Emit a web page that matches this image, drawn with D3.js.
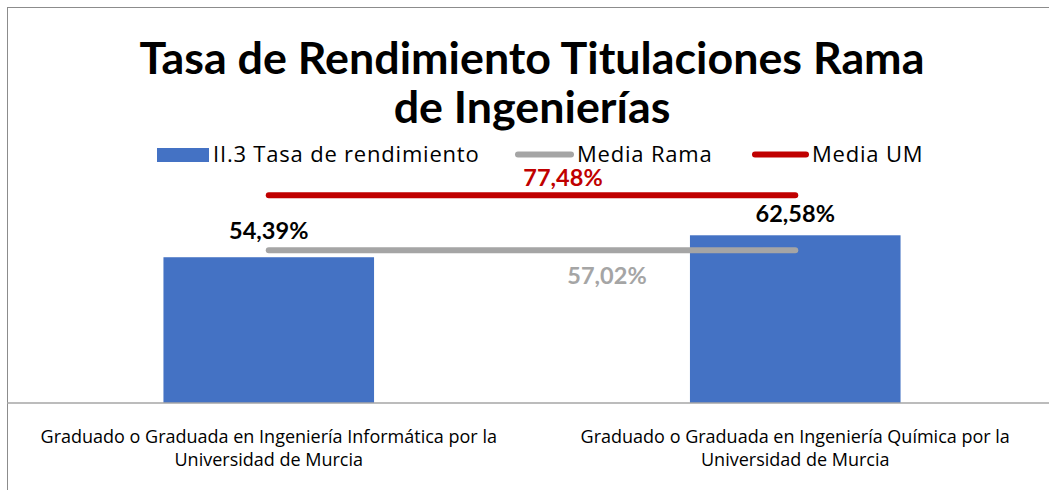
<!DOCTYPE html>
<html>
<head>
<meta charset="utf-8">
<script src="https://cdn.jsdelivr.net/npm/d3@7/dist/d3.min.js"></script>
<style>
  html, body { margin: 0; padding: 0; background: #fff; }
  svg { display: block; font-family: Lato, "Open Sans", sans-serif; }
</style>
</head>
<body>
<svg id="chart" width="1049" height="490"></svg>
<script>
// ---- data ----
const titleLines = ["Tasa de Rendimiento Titulaciones Rama", "de Ingenierías"];
const categories = [
  "Graduado o Graduada en Ingeniería Informática por la|Universidad de Murcia",
  "Graduado o Graduada en Ingeniería Química por la|Universidad de Murcia"
];
const seriesNames = ["II.3 Tasa de rendimiento", "Media Rama", "Media UM"];
const tasaRendimiento = [0.5439, 0.6258];
const mediaRama = [0.5702, 0.5702];
const mediaUM = [0.7748, 0.7748];

const fmt = v => (v * 100).toFixed(2).replace(".", ",") + "%";

const svg = d3.select("#chart");
const W = 1049, H = 490;
const regular = "'Open Sans', Lato, sans-serif";

// chart border (cropped on right/bottom)
svg.append("rect")
  .attr("x", 7.5).attr("y", 7.5)
  .attr("width", W + 20).attr("height", H + 20)
  .attr("fill", "#fff").attr("stroke", "#8c8c8c").attr("stroke-width", 1);

// scales
const x = d3.scaleBand().domain(categories).range([5.5, 1058.5])
  .paddingInner(0.6).paddingOuter(0.3);
const y = d3.scaleLinear().domain([0, 1]).range([403, 135]);
const cx = c => x(c) + x.bandwidth() / 2;

// title
const title = svg.append("text")
  .attr("text-anchor", "middle")
  .attr("font-weight", "bold").attr("font-size", 44.8).attr("fill", "#000");
titleLines.forEach((t, i) => {
  title.append("tspan").attr("x", 532).attr("y", i === 0 ? 74 : 123).text(t);
});

// bars
svg.selectAll("rect.bar").data(categories).enter().append("rect")
  .attr("class", "bar")
  .attr("x", d => x(d))
  .attr("width", x.bandwidth())
  .attr("y", (d, i) => y(tasaRendimiento[i]))
  .attr("height", (d, i) => y(0) - y(tasaRendimiento[i]))
  .attr("fill", "#4472C4");

// baseline (category axis)
const xAxis = d3.axisBottom(x).tickSize(0).tickFormat("");
const gx = svg.append("g").attr("transform", `translate(0,${y(0)})`).call(xAxis);
gx.select(".domain").attr("stroke", "#a6a6a6").attr("stroke-width", 1.5)
  .attr("d", `M7,0H${W}`);

// category labels
categories.forEach(c => {
  const t = svg.append("text").attr("text-anchor", "middle")
    .attr("font-family", regular)
    .attr("font-size", 18).attr("fill", "#000");
  c.split("|").forEach((line, i) => {
    t.append("tspan").attr("x", cx(c)).attr("y", 443 + i * 23).text(line);
  });
});

// lines
const line = d3.line().x((d, i) => cx(categories[i])).y(d => y(d));
svg.append("path").datum(mediaRama).attr("d", line)
  .attr("fill", "none").attr("stroke", "#A5A5A5").attr("stroke-width", 6)
  .attr("stroke-linecap", "round");
svg.append("path").datum(mediaUM).attr("d", line)
  .attr("fill", "none").attr("stroke", "#C00000").attr("stroke-width", 6)
  .attr("stroke-linecap", "round");

// bar data labels
const barDy = [-18, -13];
categories.forEach((c, i) => {
  svg.append("text").attr("text-anchor", "middle")
    .attr("x", cx(c)).attr("y", y(tasaRendimiento[i]) + barDy[i])
    .attr("font-size", 23.5).attr("font-weight", "bold").attr("fill", "#000")
    .text(fmt(tasaRendimiento[i]));
});

// line data labels
const midX = (cx(categories[0]) + cx(categories[1])) / 2;
svg.append("text").attr("text-anchor", "middle")
  .attr("x", midX + 31).attr("y", y(mediaUM[0]) - 9)
  .attr("font-size", 23.5).attr("font-weight", "bold").attr("fill", "#C00000")
  .text(fmt(mediaUM[0]));
svg.append("text").attr("text-anchor", "middle")
  .attr("x", midX + 75).attr("y", y(mediaRama[0]) + 34)
  .attr("font-size", 23.5).attr("font-weight", "bold").attr("fill", "#A5A5A5")
  .text(fmt(mediaRama[0]));

// legend
const lg = svg.append("g").attr("font-size", 22).attr("letter-spacing", 0.8)
  .attr("font-family", regular).attr("fill", "#000");
lg.append("rect").attr("x", 157).attr("y", 148).attr("width", 52).attr("height", 14)
  .attr("fill", "#4472C4");
lg.append("text").attr("x", 213).attr("y", 162).text(seriesNames[0]);
lg.append("line").attr("x1", 518).attr("x2", 571).attr("y1", 154.5).attr("y2", 154.5)
  .attr("stroke", "#A5A5A5").attr("stroke-width", 6).attr("stroke-linecap", "round");
lg.append("text").attr("x", 577).attr("y", 162).text(seriesNames[1]);
lg.append("line").attr("x1", 755).attr("x2", 806).attr("y1", 154.5).attr("y2", 154.5)
  .attr("stroke", "#C00000").attr("stroke-width", 6).attr("stroke-linecap", "round");
lg.append("text").attr("x", 812).attr("y", 162).text(seriesNames[2]);
</script>
</body>
</html>
